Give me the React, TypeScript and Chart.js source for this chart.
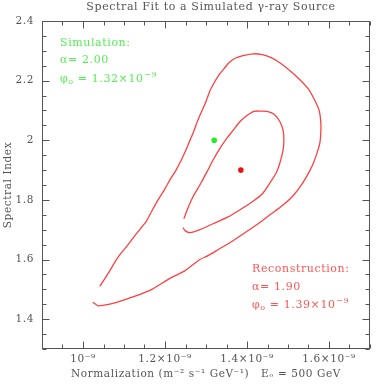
import React, { useEffect, useRef } from "react";
import { Chart, registerables } from "chart.js";

Chart.register(...registerables);

// Normalization values are in units of 10^-9 m^-2 s^-1 GeV^-1
const outerX = [
  1.041, 1.063, 1.085, 1.11, 1.132, 1.144, 1.154, 1.168, 1.183, 1.198, 1.212, 1.227, 1.241, 1.251, 1.261,
  1.271, 1.278, 1.285, 1.298, 1.31, 1.32, 1.332, 1.344, 1.356, 1.371, 1.388, 1.415, 1.437, 1.459, 1.48,
  1.505, 1.529, 1.549, 1.563, 1.576, 1.58, 1.58, 1.578, 1.573, 1.563, 1.554, 1.534, 1.512, 1.488, 1.456,
  1.427, 1.395, 1.366, 1.334, 1.305, 1.285, 1.249, 1.212, 1.168, 1.127, 1.09, 1.073, 1.051, 1.037, 1.024,
];
const outerY = [
  1.51, 1.557, 1.607, 1.65, 1.69, 1.71, 1.727, 1.763, 1.8, 1.833, 1.867, 1.9, 1.937, 1.967, 2.0,
  2.033, 2.06, 2.083, 2.123, 2.167, 2.193, 2.22, 2.24, 2.26, 2.275, 2.283, 2.29, 2.287, 2.277, 2.26,
  2.233, 2.203, 2.173, 2.14, 2.1, 2.06, 2.027, 1.993, 1.967, 1.927, 1.9, 1.853, 1.813, 1.783, 1.75,
  1.72, 1.69, 1.663, 1.637, 1.613, 1.6, 1.563, 1.537, 1.5, 1.477, 1.46, 1.453, 1.447, 1.445, 1.457,
];
const innerX = [
  1.246, 1.256, 1.268, 1.285, 1.302, 1.317, 1.334, 1.351, 1.366, 1.383, 1.4, 1.417, 1.432, 1.449, 1.466,
  1.48, 1.488, 1.49, 1.488, 1.48, 1.471, 1.456, 1.437, 1.412, 1.383, 1.354, 1.317, 1.285, 1.261, 1.249, 1.244,
];
const innerY = [
  1.737, 1.773, 1.81, 1.85, 1.893, 1.933, 1.973, 2.007, 2.033, 2.063, 2.083, 2.097, 2.098, 2.097, 2.087,
  2.063, 2.033, 2.0, 1.967, 1.923, 1.89, 1.857, 1.82, 1.793, 1.767, 1.743, 1.72, 1.7, 1.69, 1.697, 1.707,
];
const simPoint = { x: 1.32, y: 2.0 };
const recPoint = { x: 1.385, y: 1.9 };

const xTickValues = [1.0, 1.2, 1.4, 1.6];
const xTickLabels = ["10\u207B\u2079", "1.2\u00D710\u207B\u2079", "1.4\u00D710\u207B\u2079", "1.6\u00D710\u207B\u2079"];
const yTickValues = [1.4, 1.6, 1.8, 2.0, 2.2, 2.4];
const yTickLabels = ["1.4", "1.6", "1.8", "2", "2.2", "2.4"];

const titleText = "Spectral Fit to a Simulated \u03B3-ray Source";
const xTitle = "Normalization (m\u207B\u00B2 s\u207B\u00B9 GeV\u207B\u00B9)   E\u2092 = 500 GeV";
const yTitle = "Spectral Index";
const simLines = ["Simulation:", "\u03B1= 2.00", "1.32"];
const recLines = ["Reconstruction:", "\u03B1= 1.90", "1.39"];

const FONT = "'DejaVu Serif', serif";
const AXIS = "#555";

const findLabel = (vals: number[], labels: string[], v: number) => {
  const i = vals.findIndex((t) => Math.abs(t - v) < 1e-6);
  return i >= 0 ? labels[i] : "";
};

const toPts = (xs: number[], ys: number[]) => xs.map((x, i) => ({ x, y: ys[i] }));

const framePlugin = {
  id: "frame",
  beforeDraw(chart: any) {
    chart.ctx.letterSpacing = "0.6px";
  },
  afterDraw(chart: any) {
    const { ctx, chartArea, scales } = chart;
    const { left, right, top, bottom } = chartArea;
    const L = Math.round(left) + 0.5;
    const R = Math.round(right) - 0.5;
    const T = Math.round(top) + 0.5;
    const B = Math.round(bottom) - 0.5;
    ctx.save();
    ctx.letterSpacing = "0.6px";
    ctx.strokeStyle = AXIS;
    ctx.lineWidth = 1;
    ctx.strokeRect(L, T, R - L, B - T);
    ctx.beginPath();
    scales.x.ticks.forEach((t: any) => {
      const px = Math.round(scales.x.getPixelForValue(t.value)) + 0.5;
      const len = findLabel(xTickValues, xTickLabels, t.value) ? 7 : 4;
      ctx.moveTo(px, B);
      ctx.lineTo(px, B - len);
      ctx.moveTo(px, T);
      ctx.lineTo(px, T + len);
    });
    scales.y.ticks.forEach((t: any) => {
      const py = Math.round(scales.y.getPixelForValue(t.value)) + 0.5;
      const len = findLabel(yTickValues, yTickLabels, t.value) ? 7 : 4;
      ctx.moveTo(L, py);
      ctx.lineTo(L + len, py);
      ctx.moveTo(R, py);
      ctx.lineTo(R - len, py);
    });
    ctx.stroke();

    // title
    ctx.fillStyle = AXIS;
    ctx.font = `11px ${FONT}`;
    ctx.textAlign = "center";
    ctx.textBaseline = "alphabetic";
    ctx.fillText(titleText, 211, 9.5);

    // annotations
    const drawBlock = (lines: string[], x: number, ys: number[], color: string) => {
      ctx.fillStyle = color;
      ctx.textAlign = "left";
      ctx.font = `11px ${FONT}`;
      ctx.fillText(lines[0], x, ys[0]);
      ctx.fillText(lines[1], x, ys[1]);
      let cx = x;
      ctx.fillText("\u03C6", cx, ys[2]);
      cx += ctx.measureText("\u03C6").width;
      ctx.font = `8px ${FONT}`;
      ctx.fillText("o", cx, ys[2] + 2.5);
      cx += ctx.measureText("o").width;
      ctx.font = `11px ${FONT}`;
      const main = " = " + lines[2] + "\u00D710";
      ctx.fillText(main, cx, ys[2]);
      cx += ctx.measureText(main).width;
      ctx.font = `8px ${FONT}`;
      ctx.fillText("\u22129", cx + 0.5, ys[2] - 4.5);
    };
    drawBlock(simLines, 60, [45.5, 63, 81.5], "#55ee55");
    drawBlock(recLines, 252, [271.5, 290, 307.5], "#ff5555");
    ctx.restore();
  },
};

export default function App() {
  const ref = useRef<HTMLCanvasElement | null>(null);
  useEffect(() => {
    document.body.style.margin = "0";
    const canvas = ref.current;
    if (!canvas) return;
    const lineStyle = {
      showLine: true,
      borderColor: "#ff4040",
      borderWidth: 1.3,
      pointRadius: 0,
      pointHoverRadius: 0,
      tension: 0.25,
      fill: false,
    };
    const chart = new Chart(canvas, {
      type: "scatter",
      data: {
        datasets: [
          { label: "outer", data: toPts(outerX, outerY), ...lineStyle },
          { label: "inner", data: toPts(innerX, innerY), ...lineStyle },
          {
            label: "simulation",
            data: [simPoint],
            pointRadius: 2.8,
            backgroundColor: "#22ee22",
            borderWidth: 0,
          },
          {
            label: "reconstruction",
            data: [recPoint],
            pointRadius: 2.8,
            backgroundColor: "#ee1111",
            borderWidth: 0,
          },
        ],
      },
      options: {
        animation: false,
        responsive: false,
        devicePixelRatio: 1,
        layout: { padding: { top: 21, right: 21, left: 0, bottom: 0 } },
        plugins: { legend: { display: false }, tooltip: { enabled: false }, title: { display: false } },
        scales: {
          x: {
            type: "linear",
            min: 0.9,
            max: 1.7,
            grid: { display: false, drawTicks: false },
            border: { display: false },
            afterFit: (s: any) => {
              s.height = 42;
            },
            ticks: {
              stepSize: 0.05,
              autoSkip: false,
              maxRotation: 0,
              padding: 4,
              color: AXIS,
              font: { family: FONT, size: 10.5 },
              callback: (v: any) => findLabel(xTickValues, xTickLabels, Number(v)),
            },
            title: {
              display: true,
              text: xTitle,
              color: AXIS,
              font: { family: FONT, size: 10.5 },
              padding: { top: 0, bottom: 10.5 },
            },
          },
          y: {
            type: "linear",
            min: 1.3,
            max: 2.4,
            grid: { display: false, drawTicks: false },
            border: { display: false },
            afterFit: (s: any) => {
              s.width = 42;
            },
            ticks: {
              stepSize: 0.05,
              autoSkip: false,
              padding: 8,
              color: AXIS,
              font: { family: FONT, size: 10.5 },
              callback: (v: any) => findLabel(yTickValues, yTickLabels, Number(v)),
            },
            title: {
              display: true,
              text: yTitle,
              color: AXIS,
              font: { family: FONT, size: 10.5 },
              padding: { top: 1.5, bottom: 0 },
            },
          },
        },
      },
      plugins: [framePlugin],
    });
    return () => chart.destroy();
  }, []);
  return (
    <div style={{ position: "fixed", left: 0, top: 0, width: 391, height: 391, background: "#fff" }}>
      <canvas ref={ref} width={391} height={391} style={{ width: 391, height: 391 }} />
    </div>
  );
}
